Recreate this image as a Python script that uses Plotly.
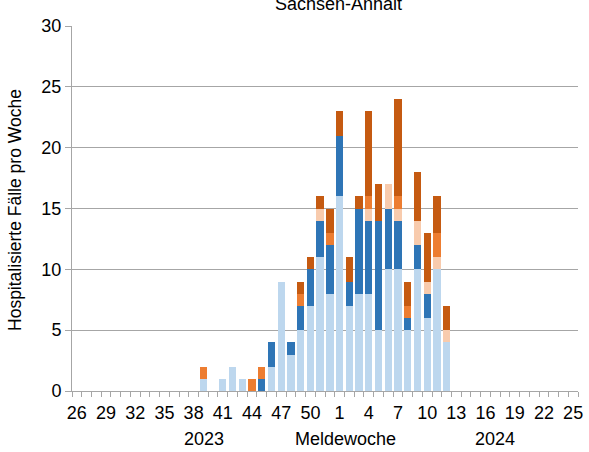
import plotly.graph_objects as go

weeks = [str(w) for w in range(26, 53)] + [str(w) for w in range(1, 26)]

# values per week, 26/2023 .. 25/2024
light_blue = [0]*13 + [1, 0, 1, 2, 1, 0, 0, 2, 9, 3, 5, 7, 11, 8,
                       16, 7, 8, 8, 5, 10, 10, 5, 10, 6, 10, 4] + [0]*13
dark_blue = [0]*13 + [0, 0, 0, 0, 0, 0, 1, 2, 0, 1, 2, 3, 3, 4,
                      5, 2, 7, 6, 9, 5, 4, 1, 2, 2, 0, 0] + [0]*13
light_orange = [0]*13 + [0, 0, 0, 0, 0, 0, 0, 0, 0, 0, 0, 0, 1, 0,
                         0, 0, 0, 1, 0, 2, 1, 0, 2, 1, 1, 1] + [0]*13
orange = [0]*13 + [1, 0, 0, 0, 0, 1, 1, 0, 0, 0, 1, 0, 0, 1,
                   0, 0, 0, 1, 0, 0, 1, 1, 0, 0, 2, 0] + [0]*13
dark_orange = [0]*13 + [0, 0, 0, 0, 0, 0, 0, 0, 0, 0, 1, 1, 1, 2,
                        2, 2, 1, 7, 3, 0, 8, 2, 4, 4, 3, 2] + [0]*13

series = [
    ("Gruppe 1", light_blue, "#bdd7ee"),
    ("Gruppe 2", dark_blue, "#2e75b6"),
    ("Gruppe 3", light_orange, "#f8cbad"),
    ("Gruppe 4", orange, "#ed7d31"),
    ("Gruppe 5", dark_orange, "#c55a11"),
]

idx = list(range(len(weeks)))
font = "Liberation Sans, Arial, sans-serif"
grid = "#a6a6a6"

fig = go.Figure()
for name, vals, col in series:
    fig.add_trace(go.Bar(x=idx, y=vals, name=name, marker=dict(color=col, line=dict(width=0))))

fig.update_layout(
    barmode="stack",
    bargap=0.25,
    width=589, height=452,
    margin=dict(l=72, r=11, t=26, b=61, autoexpand=False),
    paper_bgcolor="white", plot_bgcolor="white",
    showlegend=False,
    font=dict(family=font, size=18, color="black"),
)
fig.update_xaxes(
    automargin=False,
    range=[-0.5, len(weeks) - 0.5],
    tickmode="array", tickvals=idx[::3], ticktext=weeks[::3],
    ticks="outside", ticklen=5, tickcolor="rgba(0,0,0,0)",
    minor=dict(ticks="outside", tick0=0.5, dtick=1, ticklen=5, tickcolor=grid, tickwidth=1, showgrid=False),
    showline=True, linecolor=grid, linewidth=1,
    showgrid=False, zeroline=False,
    tickfont=dict(size=18),
)
fig.update_yaxes(
    automargin=False,
    range=[0, 30], dtick=5,
    ticks="outside", ticklen=6, tickcolor=grid,
    showline=True, linecolor=grid, linewidth=1,
    showgrid=True, gridcolor=grid, gridwidth=1,
    zeroline=False,
    tickfont=dict(size=18),
)

annos = [
    dict(text="Sachsen-Anhalt", x=0.5257, y=1.061, xref="paper", yref="paper",
         xanchor="center", yanchor="middle", showarrow=False, font=dict(size=18)),
    dict(text="Hospitalisierte Fälle pro Woche", x=-0.1126, y=0.496, xref="paper", yref="paper",
         xanchor="center", yanchor="middle", textangle=-90, showarrow=False, font=dict(size=17.5)),
    dict(text="2023", x=0.2609, y=-0.1315, xref="paper", yref="paper",
         xanchor="center", yanchor="middle", showarrow=False, font=dict(size=18)),
    dict(text="Meldewoche", x=0.5415, y=-0.1315, xref="paper", yref="paper",
         xanchor="center", yanchor="middle", showarrow=False, font=dict(size=18)),
    dict(text="2024", x=0.836, y=-0.1315, xref="paper", yref="paper",
         xanchor="center", yanchor="middle", showarrow=False, font=dict(size=18)),
]
fig.update_layout(annotations=annos)

fig.write_html("out.html", config={"displayModeBar": False},
               post_script="document.body.style.margin='0';document.body.style.overflow='hidden';")
